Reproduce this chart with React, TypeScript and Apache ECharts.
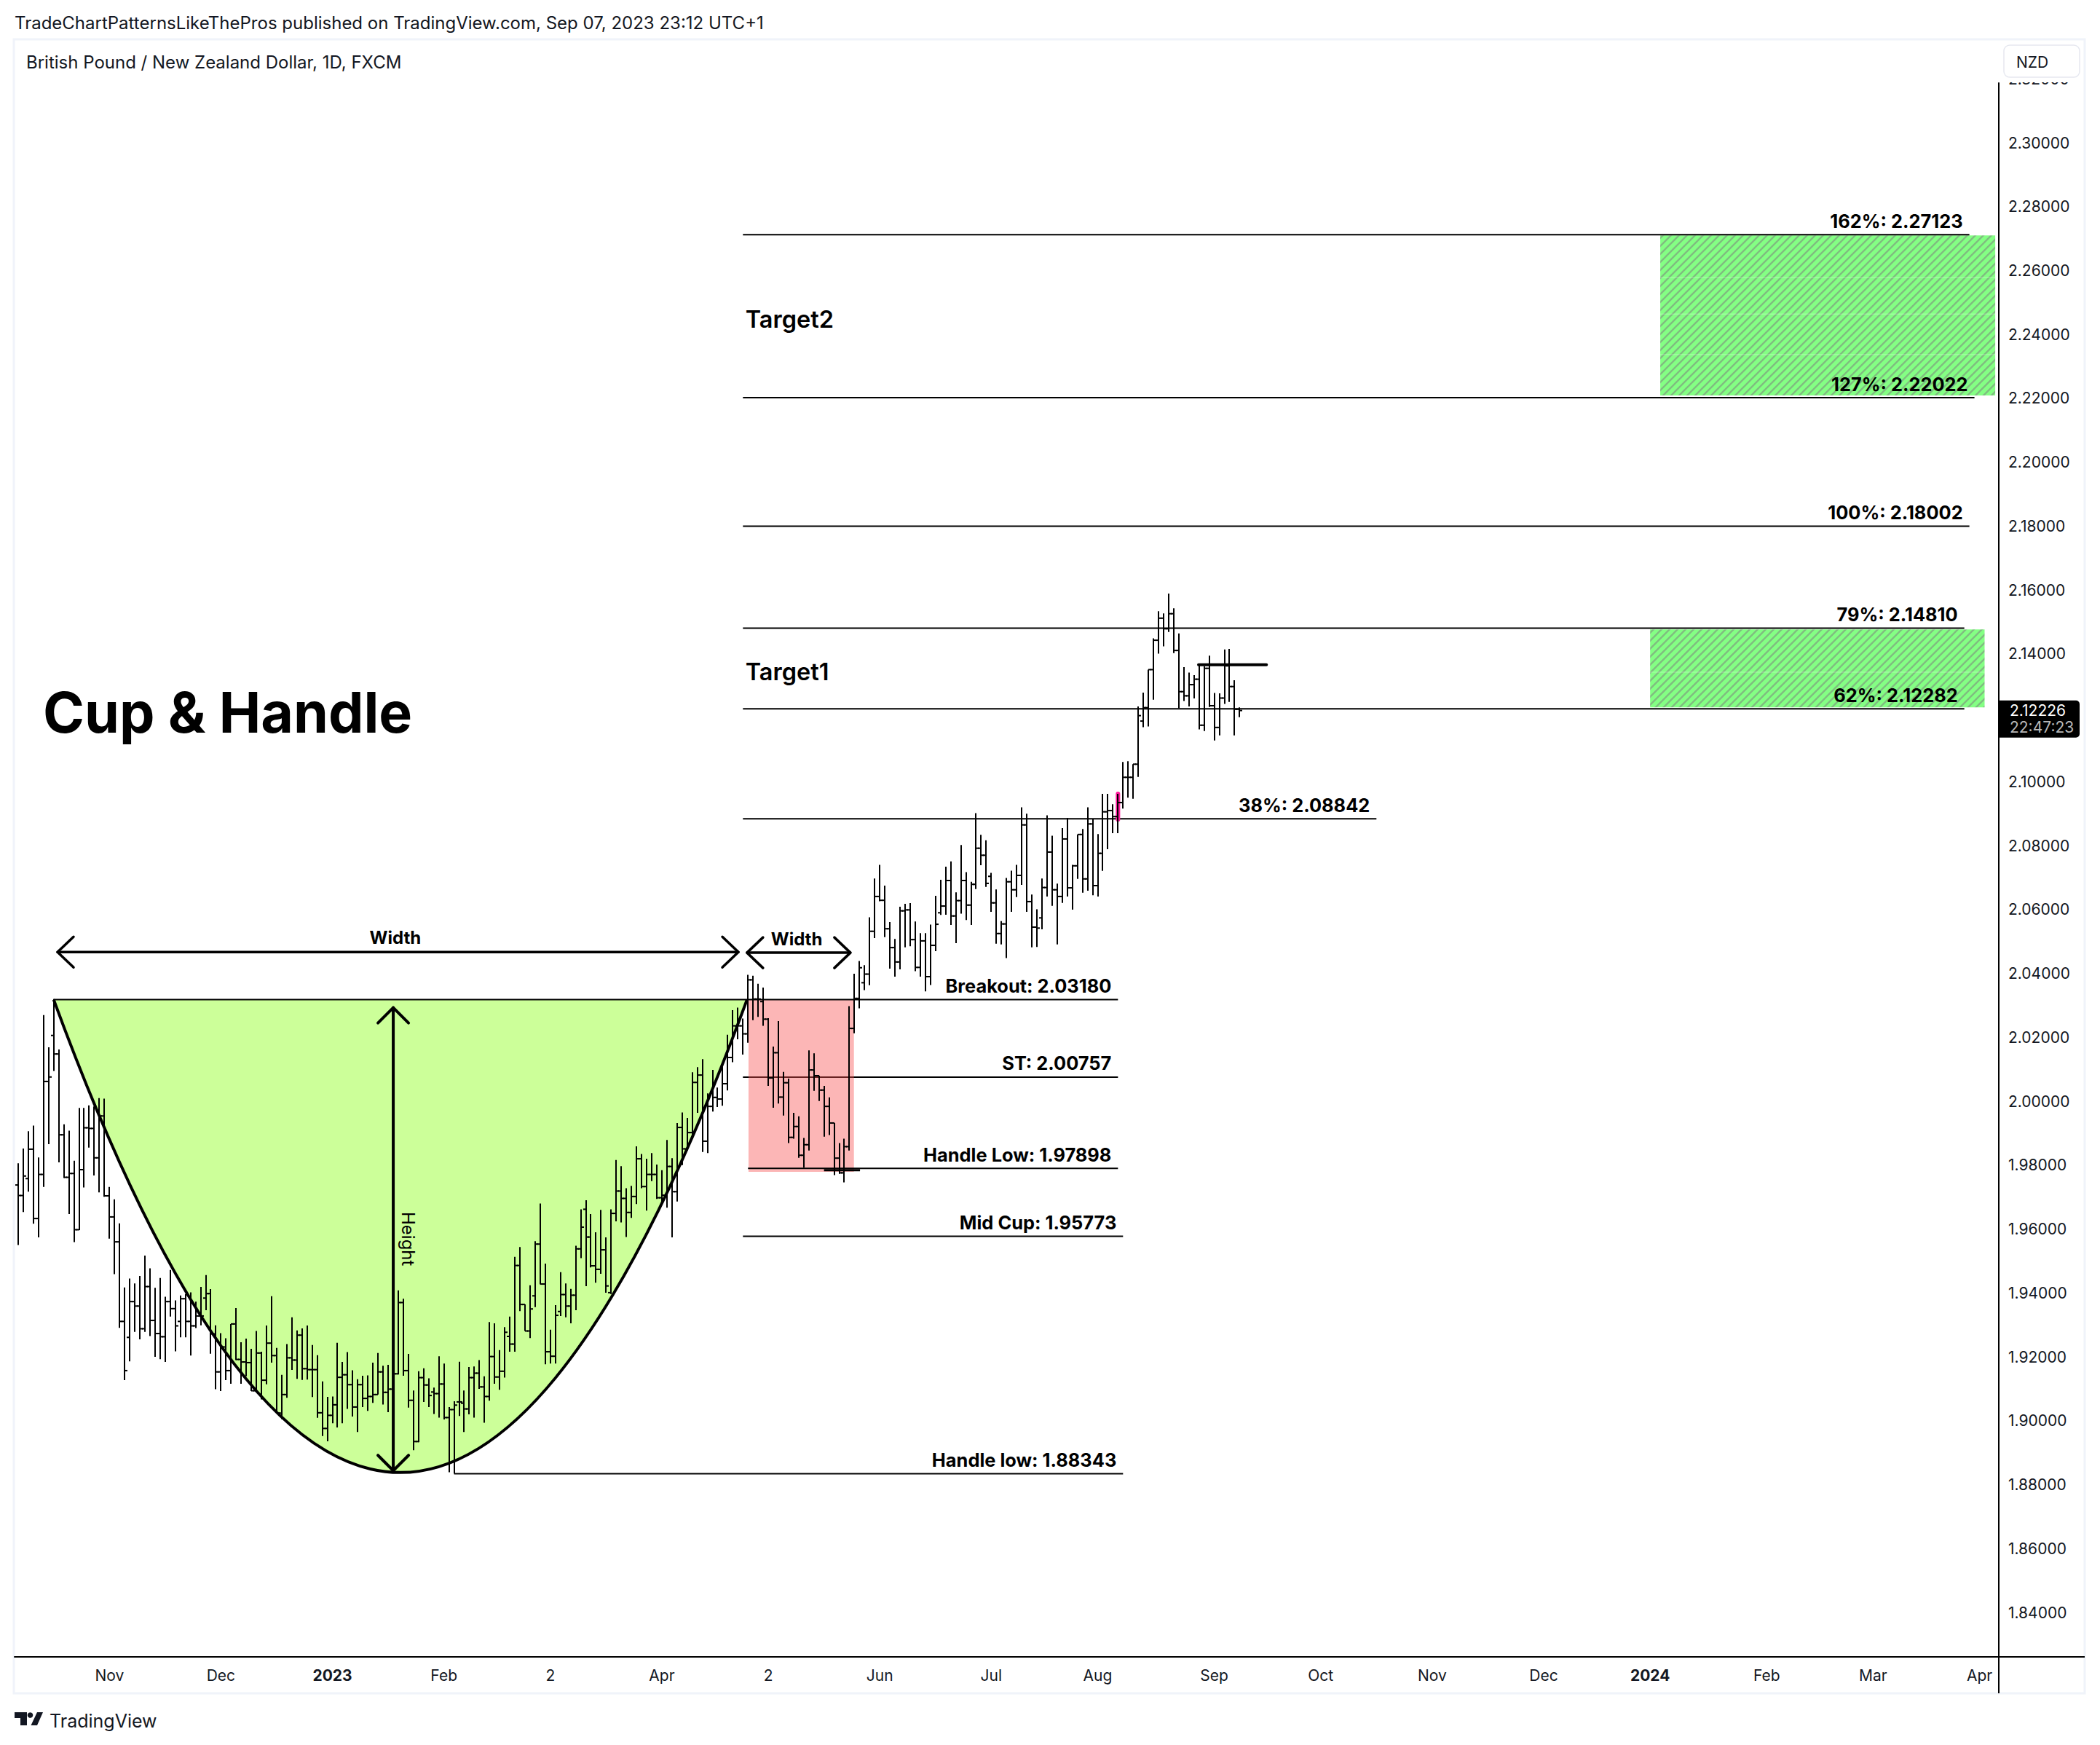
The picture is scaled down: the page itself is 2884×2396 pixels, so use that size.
import React, { useEffect, useRef } from 'react';
import * as echarts from 'echarts';

const highs = [
  1.9806, 1.9852, 1.9906, 1.9924, 1.9824, 2.027, 2.0169, 2.032, 2.0162, 1.9928,
  1.9908, 1.9814, 1.9979, 1.9979, 1.9987, 1.9984, 2.001, 2.0008, 1.9732, 1.9693,
  1.9618, 1.9417, 1.9445, 1.943, 1.9453, 1.9517, 1.9477, 1.9416, 1.9447, 1.9388,
  1.9472, 1.9377, 1.9392, 1.9397, 1.9402, 1.9373, 1.9419, 1.9456, 1.9412, 1.9299,
  1.9274, 1.9258, 1.9303, 1.9353, 1.9246, 1.9257, 1.9225, 1.9281, 1.9216, 1.9298,
  1.939, 1.9228, 1.9144, 1.924, 1.9324, 1.9283, 1.9289, 1.9298, 1.9237, 1.9205,
  1.9123, 1.9075, 1.9076, 1.9244, 1.9184, 1.9215, 1.9158, 1.913, 1.9141, 1.9142,
  1.9182, 1.9212, 1.9172, 1.9175, 1.9264, 1.9408, 1.9382, 1.9209, 1.9095, 1.9155,
  1.9164, 1.9133, 1.9104, 1.9202, 1.9179, 1.9043, 1.9061, 1.9185, 1.9095, 1.9168,
  1.917, 1.919, 1.9139, 1.9309, 1.9305, 1.9221, 1.9293, 1.9326, 1.9513, 1.9544,
  1.9364, 1.9424, 1.9562, 1.968, 1.9492, 1.9285, 1.9362, 1.9465, 1.943, 1.9413,
  1.9548, 1.9662, 1.969, 1.9647, 1.959, 1.966, 1.9574, 1.9662, 1.9816, 1.9797,
  1.9728, 1.9735, 1.9859, 1.9835, 1.982, 1.9838, 1.9802, 1.9784, 1.9879, 1.9822,
  1.9932, 1.9965, 1.9948, 2.0091, 2.0107, 2.0132, 2.0025, 2.0098, 2.0043, 2.0119,
  2.0208, 2.0285, 2.0293, 2.0259, 2.0396, 2.0393, 2.0368, 2.0356, 2.026, 2.0171,
  2.0251, 2.0092, 2.0071, 1.9964, 1.9953, 1.9885, 2.0159, 2.015, 2.008, 2.0048,
  2.0012, 1.9932, 1.9869, 1.9883, 2.0298, 2.0399, 2.0439, 2.0426, 2.0576, 2.0697,
  2.074, 2.0675, 2.0561, 2.0508, 2.0609, 2.0618, 2.062, 2.0563, 2.0526, 2.0526,
  2.0553, 2.0643, 2.0693, 2.0734, 2.0751, 2.0654, 2.0802, 2.0717, 2.0687, 2.0902,
  2.0834, 2.0817, 2.0715, 2.0663, 2.0564, 2.0699, 2.0722, 2.074, 2.092, 2.09,
  2.0647, 2.0601, 2.0697, 2.0895, 2.0831, 2.0681, 2.0855, 2.0887, 2.074, 2.0835,
  2.0852, 2.092, 2.0884, 2.0836, 2.0962, 2.0962, 2.093, 2.0962, 2.1062, 2.1064,
  2.1055, 2.1236, 2.1279, 2.1351, 2.1449, 2.1534, 2.1527, 2.1589, 2.1543, 2.1464,
  2.1359, 2.1342, 2.1334, 2.1365, 2.1361, 2.1395, 2.1278, 2.1277, 2.1414, 2.1416,
  2.1318, 2.1233,
];

const lows = [
  1.955, 1.9653, 1.9717, 1.9617, 1.9574, 1.9732, 1.9866, 2.0095, 1.9809, 1.976,
  1.9647, 1.9559, 1.9597, 1.973, 1.9855, 1.9768, 1.9715, 1.9701, 1.957, 1.9459,
  1.9291, 1.9127, 1.9186, 1.9278, 1.9255, 1.9278, 1.9265, 1.92, 1.9193, 1.9184,
  1.9326, 1.9217, 1.9261, 1.9261, 1.9204, 1.929, 1.9299, 1.9346, 1.921, 1.9099,
  1.9093, 1.9127, 1.9116, 1.919, 1.9116, 1.9139, 1.9093, 1.909, 1.9067, 1.9114,
  1.9182, 1.9024, 1.9005, 1.9072, 1.9159, 1.9131, 1.9128, 1.9129, 1.9074, 1.9009,
  1.8952, 1.8936, 1.8992, 1.8979, 1.8992, 1.9037, 1.9013, 1.8965, 1.9043, 1.9031,
  1.9056, 1.9082, 1.9051, 1.9027, 1.9088, 1.9145, 1.9141, 1.9041, 1.8908, 1.8933,
  1.9059, 1.9043, 1.9021, 1.901, 1.9004, 1.8839, 1.8835, 1.9015, 1.8965, 1.902,
  1.901, 1.91, 1.8994, 1.9063, 1.9116, 1.9097, 1.9135, 1.9216, 1.9216, 1.9343,
  1.9281, 1.9259, 1.9356, 1.9427, 1.9177, 1.9179, 1.9179, 1.9328, 1.9324, 1.9305,
  1.9346, 1.9509, 1.9421, 1.948, 1.9432, 1.946, 1.9401, 1.9397, 1.9624, 1.9621,
  1.9575, 1.9635, 1.9678, 1.9728, 1.9658, 1.975, 1.9694, 1.9676, 1.9667, 1.9574,
  1.9686, 1.98, 1.9846, 1.9882, 1.9964, 1.9841, 1.9838, 1.9968, 1.9982, 1.9986,
  2.0034, 2.0122, 2.0194, 2.0146, 2.0183, 2.0254, 2.0264, 2.0236, 2.0048, 1.998,
  1.9993, 1.9955, 1.9869, 1.9883, 1.9823, 1.9792, 1.9846, 2.0033, 2.0001, 1.9889,
  1.9894, 1.9769, 1.9773, 1.9746, 1.9846, 2.0213, 2.0291, 2.0348, 2.0363, 2.0511,
  2.0626, 2.0514, 2.0415, 2.039, 2.0413, 2.0482, 2.0485, 2.0407, 2.039, 2.0344,
  2.0364, 2.047, 2.0583, 2.0584, 2.0552, 2.0495, 2.0587, 2.0567, 2.0552, 2.0664,
  2.0739, 2.0671, 2.0593, 2.0493, 2.0491, 2.0448, 2.0593, 2.0639, 2.0677, 2.0593,
  2.0482, 2.0483, 2.0538, 2.0641, 2.0612, 2.0491, 2.0621, 2.0641, 2.06, 2.0696,
  2.0653, 2.0659, 2.0645, 2.0641, 2.0721, 2.0789, 2.0839, 2.0839, 2.0916, 2.095,
  2.0947, 2.1015, 2.1171, 2.1173, 2.1257, 2.1401, 2.1424, 2.1469, 2.1403, 2.123,
  2.1253, 2.1236, 2.1261, 2.1164, 2.1159, 2.1234, 2.1129, 2.1145, 2.1244, 2.125,
  2.1145, 2.1202,
];

const opens = [
  1.9738, 1.9705, 1.9758, 1.985, 1.9633, 1.9771, 2.0062, 2.0206, 2.0148, 1.9895,
  1.9762, 1.9774, 1.9598, 1.9786, 1.9917, 1.9915, 1.9823, 1.9954, 1.9704, 1.9638,
  1.956, 1.9311, 1.9261, 1.9373, 1.9359, 1.9288, 1.942, 1.9314, 1.9273, 1.9263,
  1.9373, 1.9351, 1.9311, 1.9382, 1.9311, 1.9297, 1.9328, 1.9384, 1.9398, 1.9272,
  1.9153, 1.9231, 1.9157, 1.9303, 1.9192, 1.9184, 1.9182, 1.9094, 1.9212, 1.9127,
  1.9243, 1.9204, 1.9024, 1.9082, 1.9197, 1.919, 1.9268, 1.9163, 1.916, 1.916,
  1.9025, 1.8976, 1.9017, 1.905, 1.9136, 1.9144, 1.9113, 1.9043, 1.9113, 1.907,
  1.9076, 1.9082, 1.9153, 1.9089, 1.9099, 1.9147, 1.937, 1.9157, 1.9064, 1.8935,
  1.9135, 1.9112, 1.909, 1.9085, 1.9115, 1.901, 1.9035, 1.9059, 1.9055, 1.9037,
  1.9135, 1.9149, 1.9106, 1.9076, 1.9201, 1.9137, 1.9155, 1.9264, 1.924, 1.9486,
  1.9364, 1.9281, 1.9391, 1.9553, 1.9428, 1.9216, 1.9202, 1.9342, 1.9395, 1.9359,
  1.9393, 1.9538, 1.9662, 1.9575, 1.9485, 1.9474, 1.9535, 1.9401, 1.9649, 1.9719,
  1.9696, 1.9652, 1.9702, 1.982, 1.9733, 1.9771, 1.9771, 1.9698, 1.9706, 1.9796,
  1.9717, 1.9918, 1.9851, 1.9902, 2.0059, 2.0082, 1.9875, 1.9984, 2.0012, 2.0007,
  2.0055, 2.0137, 2.0236, 2.0236, 2.0211, 2.038, 2.032, 2.0312, 2.0257, 2.0073,
  2.0152, 2.0013, 2.0058, 1.9887, 1.9921, 1.9831, 1.9864, 2.0098, 2.008, 2.0035,
  1.9984, 1.9932, 1.9822, 1.9776, 1.9858, 2.0228, 2.0322, 2.0371, 2.0398, 2.0532,
  2.0641, 2.0629, 2.054, 2.0481, 2.0436, 2.0596, 2.0599, 2.0506, 2.0419, 2.0502,
  2.039, 2.0488, 2.059, 2.0611, 2.0691, 2.058, 2.0628, 2.0691, 2.0614, 2.0679,
  2.0792, 2.077, 2.0704, 2.0621, 2.0525, 2.0555, 2.0687, 2.0662, 2.0707, 2.0865,
  2.0625, 2.0545, 2.0574, 2.0669, 2.078, 2.0662, 2.0641, 2.0821, 2.0668, 2.0737,
  2.0835, 2.0696, 2.0868, 2.0675, 2.0776, 2.0906, 2.091, 2.0891, 2.0935, 2.1014,
  2.1014, 2.1055, 2.119, 2.1232, 2.1351, 2.1443, 2.1512, 2.1479, 2.1526, 2.1411,
  2.1282, 2.1269, 2.1304, 2.1321, 2.1177, 2.1355, 2.1238, 2.117, 2.1262, 2.1363,
  2.1298, 2.1227,
];

const closes = [
  1.9705, 1.9766, 1.985, 1.9633, 1.9771, 2.0062, 2.0076, 2.0148, 1.9895, 1.9762,
  1.9774, 1.9598, 1.9786, 1.9917, 1.9915, 1.9823, 1.9954, 1.9704, 1.9638, 1.956,
  1.9311, 1.9157, 1.9373, 1.9359, 1.9288, 1.942, 1.9314, 1.9273, 1.9263, 1.9373,
  1.9351, 1.9297, 1.9382, 1.9311, 1.9297, 1.9328, 1.9328, 1.9398, 1.9272, 1.9153,
  1.9231, 1.9157, 1.9303, 1.9192, 1.9184, 1.9182, 1.9094, 1.9212, 1.9127, 1.9243,
  1.9204, 1.9024, 1.9082, 1.9197, 1.919, 1.9268, 1.9163, 1.916, 1.916, 1.9025,
  1.8976, 1.9017, 1.905, 1.9136, 1.9144, 1.9113, 1.9043, 1.9113, 1.907, 1.9076,
  1.9082, 1.9153, 1.9089, 1.9099, 1.9147, 1.937, 1.9157, 1.9064, 1.8935, 1.9135,
  1.9112, 1.9079, 1.9085, 1.9115, 1.901, 1.9035, 1.9049, 1.9059, 1.9037, 1.9135,
  1.9149, 1.9106, 1.9076, 1.9201, 1.9137, 1.9155, 1.9277, 1.924, 1.9486, 1.9364,
  1.9281, 1.935, 1.9553, 1.9428, 1.9216, 1.9202, 1.933, 1.9395, 1.9359, 1.9393,
  1.9538, 1.9606, 1.9575, 1.9485, 1.9474, 1.9535, 1.9422, 1.9649, 1.9719, 1.9696,
  1.9652, 1.9702, 1.982, 1.9733, 1.9771, 1.9771, 1.9698, 1.9706, 1.9796, 1.9717,
  1.9918, 1.9851, 1.9902, 2.0059, 2.0082, 1.9875, 1.9984, 2.0012, 2.0007, 2.0055,
  2.0137, 2.0236, 2.0236, 2.0211, 2.038, 2.032, 2.032, 2.0257, 2.0073, 2.0152,
  2.0013, 2.0058, 1.9887, 1.9921, 1.9831, 1.9864, 2.0098, 2.008, 2.0035, 1.9984,
  1.9932, 1.9822, 1.9776, 1.9858, 2.0228, 2.0322, 2.0418, 2.0398, 2.0532, 2.0641,
  2.0629, 2.054, 2.0481, 2.0436, 2.0596, 2.0599, 2.0506, 2.0419, 2.0502, 2.039,
  2.0488, 2.0554, 2.0611, 2.0691, 2.058, 2.0628, 2.0691, 2.0614, 2.0679, 2.0792,
  2.077, 2.0682, 2.0621, 2.0525, 2.0555, 2.0687, 2.0662, 2.0707, 2.0865, 2.0625,
  2.0545, 2.0542, 2.0669, 2.078, 2.0662, 2.0641, 2.0821, 2.0668, 2.0737, 2.0835,
  2.0696, 2.0868, 2.0675, 2.0776, 2.0906, 2.091, 2.0891, 2.0935, 2.1014, 2.1014,
  2.1055, 2.1207, 2.1232, 2.1351, 2.1443, 2.1512, 2.1479, 2.1526, 2.1411, 2.1282,
  2.1269, 2.1304, 2.1321, 2.1177, 2.1355, 2.1238, 2.117, 2.1262, 2.1363, 2.1298,
  2.1227, 2.1223,
];

const priceTicks = [
  2.3, 2.28, 2.26, 2.24, 2.22, 2.2, 2.18, 2.16, 2.14, 2.1, 2.08, 2.06, 2.04, 2.02, 2.0,
  1.98, 1.96, 1.94, 1.92, 1.9, 1.88, 1.86, 1.84,
];
const timeTicks = [18, 40, 62, 84, 105, 127, 148, 170, 192, 213, 236, 257, 279, 301, 322, 345, 366, 387];
const timeLabels = ['Nov', 'Dec', '2023', 'Feb', '2', 'Apr', '2', 'Jun', 'Jul', 'Aug', 'Sep', 'Oct', 'Nov', 'Dec', '2024', 'Feb', 'Mar', 'Apr'];

// horizontal levels, from/to are bar indexes
const levels = [
  { label: '162%: 2.27123', price: 2.27123, from: 143, to: 385 },
  { label: '127%: 2.22022', price: 2.22022, from: 143, to: 386 },
  { label: '100%: 2.18002', price: 2.18002, from: 143, to: 385 },
  { label: '79%: 2.14810', price: 2.1481, from: 143, to: 384 },
  { label: '62%: 2.12282', price: 2.12282, from: 143, to: 384 },
  { label: '38%: 2.08842', price: 2.08842, from: 143, to: 268 },
  { label: 'Breakout: 2.03180', price: 2.0318, from: 7, to: 217 },
  { label: 'Handle Low: 1.97898', price: 1.97898, from: 144, to: 217 },
  { label: 'Mid Cup: 1.95773', price: 1.95773, from: 143, to: 218 },
  { label: 'Handle low: 1.88343', price: 1.88343, from: 86, to: 218 },
];
const stLevel = { label: 'ST: 2.00757', price: 2.00757, from: 143, to: 217 };

// [x, price] of the cup arc
const cupStart = [7, 2.0318];
const cupControl = [75.4, 1.7358];
const cupEnd = [143.8, 2.0318];

const handleZone = [144.1, 2.0318, 164.9, 1.9779];
const targetZones = [
  [324, 2.271, 390.1, 2.2209],
  [322, 2.1477, 388, 2.1233],
];
const zoneSeams = [
  [324, 2.2578, 390.1, 2.2578],
  [324, 2.2464, 390.1, 2.2464],
  [324, 2.2337, 390.1, 2.2337],
  [322, 2.1343, 388, 2.1343],
];

const arrows = [
  [7.76, 2.0467, 142.1, 2.0467],
  [143.8, 2.0465, 164.2, 2.0465],
  [74, 2.0293, 74, 1.8844],
];
const thinMarks = [[159, 1.9784, 166.1, 1.9784, 3]];
const thickMarks = [[232.9, 2.1366, 246.3, 2.1366, 4]];
const highlightBar = [217, 2.0962, 217, 2.0882];

const notes = [
  { text: 'Cup & Handle', x: 4.9, price: 2.1217, font: '700 77px Inter', align: 'left', rotation: 0 },
  { text: 'Target2', x: 143.5, price: 2.2448, font: '600 32.5px Inter', align: 'left', rotation: 0 },
  { text: 'Target1', x: 143.5, price: 2.1343, font: '600 32.5px Inter', align: 'left', rotation: 0 },
  { text: 'Width', x: 74.4, price: 2.0513, font: '700 24px Inter', align: 'center', rotation: 0 },
  { text: 'Width', x: 153.6, price: 2.0508, font: '700 24px Inter', align: 'center', rotation: 0 },
  { text: 'Height', x: 76.9, price: 1.9569, font: '400 24px Inter', align: 'center', rotation: -Math.PI / 2 },
];

const lastPrice = 2.12226;
const lastPriceLabel = '2.12226';
const countdownLabel = '22:47:23';

const xMin = -0.72;
const xMax = 390.8;
const yMin = 1.8261;
const yMax = 2.3187;

const INK = '#131722';

function makeHatch() {
  const c = document.createElement('canvas');
  c.width = 11;
  c.height = 11;
  const ctx = c.getContext('2d')!;
  ctx.fillStyle = '#84ff84';
  ctx.fillRect(0, 0, 11, 11);
  ctx.strokeStyle = '#80bd80';
  ctx.lineWidth = 2.4;
  ctx.beginPath();
  ctx.moveTo(-2, 13);
  ctx.lineTo(13, -2);
  ctx.moveTo(-2, 2);
  ctx.lineTo(2, -2);
  ctx.moveTo(9, 13);
  ctx.lineTo(13, 9);
  ctx.stroke();
  return c;
}

function text(str: string, x: number, y: number, font: string, align: string, fill: string, rotation = 0) {
  return {
    type: 'text',
    x,
    y,
    rotation,
    silent: true,
    style: { text: str, x: 0, y: 0, font, fill, align, verticalAlign: 'middle', textAlign: align, textVerticalAlign: 'middle' },
  };
}

const renderBar = (params: any, api: any) => {
  const i = api.value(0);
  const xc = Math.round(api.coord([i, 2])[0]);
  const yO = api.coord([i, api.value(1)])[1];
  const yH = api.coord([i, api.value(2)])[1];
  const yL = api.coord([i, api.value(3)])[1];
  const yC = api.coord([i, api.value(4)])[1];
  const style = { stroke: '#000', lineWidth: 2 };
  return {
    type: 'group',
    children: [
      { type: 'line', shape: { x1: xc, y1: yH, x2: xc, y2: yL }, style },
      { type: 'line', shape: { x1: xc - 4, y1: yO, x2: xc, y2: yO }, style },
      { type: 'line', shape: { x1: xc, y1: yC, x2: xc + 4, y2: yC }, style },
    ],
  };
};

const renderLevel = (rows: any[]) => (params: any, api: any) => {
  const a = api.coord([api.value(0), api.value(1)]);
  const b = api.coord([api.value(2), api.value(3)]);
  const row = rows[params.dataIndex];
  return {
    type: 'group',
    children: [
      { type: 'line', shape: { x1: a[0], y1: a[1], x2: b[0], y2: b[1] }, style: { stroke: '#000', lineWidth: 2 } },
      text(row.label, b[0] - 9, b[1] - 19, '700 25.4px Inter', 'right', '#000'),
    ],
  };
};

const renderSegment = (color: string, cap: string) => (params: any, api: any) => {
  const a = api.coord([api.value(0), api.value(1)]);
  const b = api.coord([api.value(2), api.value(3)]);
  return {
    type: 'line',
    shape: { x1: a[0], y1: a[1], x2: b[0], y2: b[1] },
    style: { stroke: color, lineWidth: api.value(4), lineCap: cap },
  };
};

const renderZone = (fill: any) => (params: any, api: any) => {
  const a = api.coord([api.value(0), api.value(1)]);
  const b = api.coord([api.value(2), api.value(3)]);
  return {
    type: 'rect',
    shape: { x: a[0], y: a[1], width: b[0] - a[0], height: b[1] - a[1] },
    style: { fill },
  };
};

const renderCup = (style: any) => (params: any, api: any) => {
  const s = api.coord(cupStart);
  const c = api.coord(cupControl);
  const e = api.coord(cupEnd);
  return {
    type: 'bezierCurve',
    shape: { x1: s[0], y1: s[1], x2: e[0], y2: e[1], cpx1: c[0], cpy1: c[1] },
    style,
  };
};

const renderArrow = (params: any, api: any) => {
  const a = api.coord([api.value(0), api.value(1)]);
  const b = api.coord([api.value(2), api.value(3)]);
  const vertical = Math.abs(a[0] - b[0]) < 1;
  const style = { stroke: '#000', lineWidth: vertical ? 4 : 3.5, lineCap: 'round', lineJoin: 'round', fill: 'none' };
  const head = (tip: number[], dir: number) =>
    vertical
      ? [[tip[0] - 21, tip[1] + dir * 21], tip, [tip[0] + 21, tip[1] + dir * 21]]
      : [[tip[0] + dir * 22, tip[1] - 21], tip, [tip[0] + dir * 22, tip[1] + 21]];
  return {
    type: 'group',
    children: [
      { type: 'line', shape: { x1: a[0], y1: a[1], x2: b[0], y2: b[1] }, style },
      { type: 'polyline', shape: { points: head(a, 1) }, style },
      { type: 'polyline', shape: { points: head(b, -1) }, style },
    ],
  };
};

const renderNote = (params: any, api: any) => {
  const n = notes[params.dataIndex];
  const p = api.coord([n.x, n.price]);
  return text(n.text, p[0], p[1], n.font, n.align, '#000', n.rotation);
};

const renderLastPrice = (params: any, api: any) => {
  const p = api.coord([xMax, lastPrice]);
  const left = p[0] + 1;
  const top = p[1] - 14;
  return {
    type: 'group',
    children: [
      { type: 'rect', shape: { x: left, y: top, width: 110, height: 51, r: [0, 5, 5, 0] }, style: { fill: '#000' } },
      text(lastPriceLabel, left + 14, top + 14, '400 21px Inter', 'left', '#fff'),
      text(countdownLabel, left + 14, top + 37, '400 21px Inter', 'left', '#b8b8b8'),
    ],
  };
};

const custom = (z: number, data: any[], renderItem: any, extra: any = {}) => ({
  type: 'custom',
  z,
  data,
  renderItem,
  silent: true,
  ...extra,
});

const App: React.FC = () => {
  const chartRef = useRef<HTMLDivElement | null>(null);

  useEffect(() => {
    if (!chartRef.current) return;
    const chart = echarts.init(chartRef.current, undefined, { renderer: 'svg' });
    const hatch = { image: makeHatch(), repeat: 'repeat' };
    const levelRow = (l: any) => [l.from, l.price, l.to, l.price];

    const option: any = {
      animation: false,
      backgroundColor: '#fff',
      textStyle: { fontFamily: 'Inter' },
      grid: { left: 20, top: 114, width: 2725, height: 2161, containLabel: false },
      xAxis: {
        type: 'value',
        min: xMin,
        max: xMax,
        axisLine: { show: true, onZero: false, lineStyle: { color: '#000', width: 2 } },
        axisTick: { show: false },
        splitLine: { show: false },
        axisLabel: {
          customValues: timeTicks,
          margin: 15,
          color: INK,
          fontFamily: 'Inter',
          fontSize: 21,
          formatter: (v: number) => {
            const label = timeLabels[timeTicks.indexOf(v)] ?? '';
            return label.length === 4 ? `{b|${label}}` : label;
          },
          rich: { b: { fontFamily: 'Inter', fontSize: 21, fontWeight: 700, color: INK } },
        },
      },
      yAxis: {
        type: 'value',
        position: 'right',
        min: yMin,
        max: yMax,
        axisLine: { show: true, onZero: false, lineStyle: { color: '#000', width: 2 } },
        axisTick: { show: false },
        splitLine: { show: false },
        axisLabel: {
          customValues: priceTicks,
          margin: 13,
          color: INK,
          fontFamily: 'Inter',
          fontSize: 21,
          formatter: (v: number) => v.toFixed(5),
        },
      },
      graphic: [
        { type: 'text', x: 20, y: 31, style: { text: 'TradeChartPatternsLikeThePros published on TradingView.com, Sep 07, 2023 23:12 UTC+1', font: '400 24px Inter', fill: INK, verticalAlign: 'middle', textVerticalAlign: 'middle' } },
        { type: 'rect', shape: { x: 19, y: 54, width: 2844, height: 2271 }, style: { fill: 'none', stroke: '#f0f3fa', lineWidth: 3 } },
        { type: 'text', x: 36, y: 85, style: { text: 'British Pound / New Zealand Dollar, 1D, FXCM', font: '400 24px Inter', fill: INK, verticalAlign: 'middle', textVerticalAlign: 'middle' } },
        { type: 'text', x: 2758, y: 108, z: 1, style: { text: '2.32000', font: '400 21px Inter', fill: INK, verticalAlign: 'middle', textVerticalAlign: 'middle' } },
        { type: 'rect', z: 2, shape: { x: 2747, y: 58, width: 112, height: 55 }, style: { fill: '#fff' } },
        { type: 'rect', z: 3, shape: { x: 2752, y: 62, width: 104, height: 44, r: 8 }, style: { fill: '#fff', stroke: '#e6e8f0', lineWidth: 1.5 } },
        { type: 'text', z: 4, x: 2769, y: 85, style: { text: 'NZD', font: '400 21px Inter', fill: INK, verticalAlign: 'middle', textVerticalAlign: 'middle' } },
        { type: 'line', shape: { x1: 2745, y1: 2275, x2: 2863, y2: 2275 }, style: { stroke: '#000', lineWidth: 2 } },
        { type: 'line', shape: { x1: 2745, y1: 2275, x2: 2745, y2: 2325 }, style: { stroke: '#000', lineWidth: 2 } },
        { type: 'polygon', shape: { points: [[20, 2351], [37, 2351], [37, 2369], [28, 2369], [28, 2359], [20, 2359]] }, style: { fill: INK } },
        { type: 'circle', shape: { cx: 41.5, cy: 2355, r: 3.8 }, style: { fill: INK } },
        { type: 'polygon', shape: { points: [[51, 2351], [59, 2351], [51, 2369], [42.5, 2369]] }, style: { fill: INK } },
        { type: 'text', x: 68, y: 2363, style: { text: 'TradingView', font: '400 25px Inter', fill: INK, verticalAlign: 'middle', textVerticalAlign: 'middle' } },
      ],
      series: [
        custom(2, [levelRow(stLevel)], renderLevel([stLevel])),
        custom(3, [cupStart], renderCup({ fill: '#ccff99', stroke: 'none' })),
        custom(4, [handleZone], renderZone('rgba(247, 82, 82, 0.42)')),
        custom(4, targetZones, renderZone(hatch)),
        custom(4, zoneSeams.map((s) => [...s, 1]), renderSegment('rgba(255, 255, 255, 0.35)', 'butt')),
        custom(5, levels.map(levelRow), renderLevel(levels)),
        custom(5, thinMarks, renderSegment('#000', 'butt')),
        custom(5, [[...highlightBar, 6]], renderSegment('#ff1a9c', 'round')),
        custom(6, highs.map((h, i) => [i, opens[i], h, lows[i], closes[i]]), renderBar, {
          encode: { x: 0, y: [1, 2, 3, 4] },
          clip: true,
        }),
        custom(7, [cupStart], renderCup({ fill: 'none', stroke: '#000', lineWidth: 4 })),
        custom(7, thickMarks, renderSegment('#000', 'round')),
        custom(8, arrows, renderArrow),
        custom(9, notes.map((n) => [n.x, n.price]), renderNote),
        custom(10, [[xMax, lastPrice]], renderLastPrice),
      ],
    };

    chart.setOption(option);
    return () => {
      chart.dispose();
    };
  }, []);

  return (
    <div
      ref={chartRef}
      style={{ position: 'fixed', left: 0, top: 0, width: 2884, height: 2396, background: '#fff' }}
    ></div>
  );
};

export default App;
